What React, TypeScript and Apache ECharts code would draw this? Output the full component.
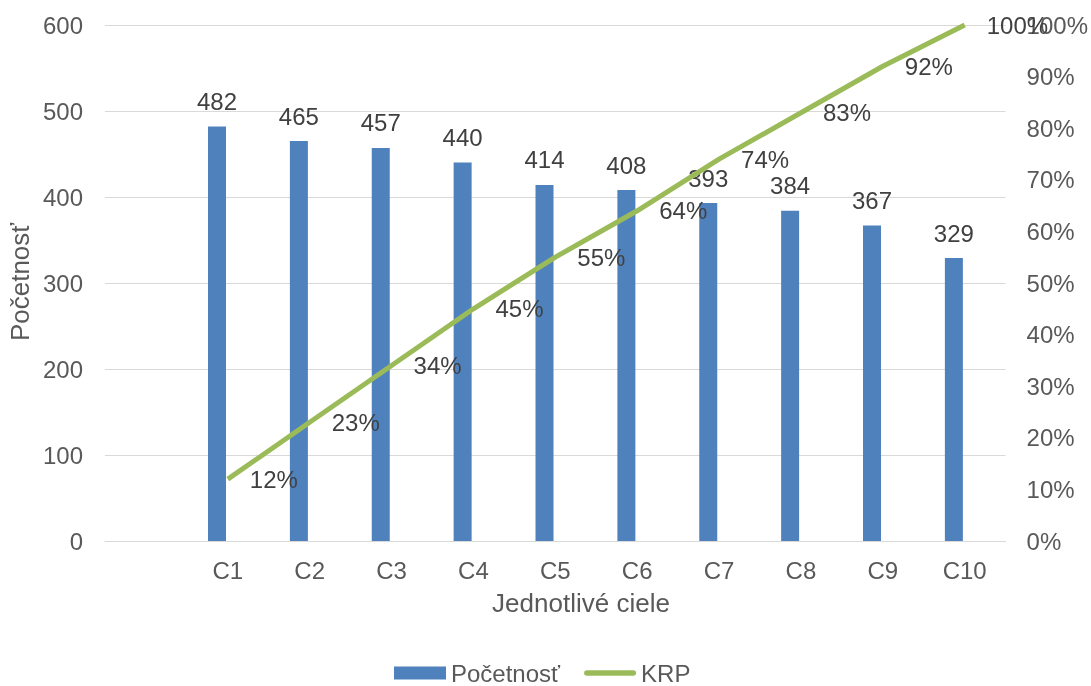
import React, { useEffect, useRef } from "react";
import * as echarts from "echarts";

// Goals and how often each one occurs
const categories = ["C1", "C2", "C3", "C4", "C5", "C6", "C7", "C8", "C9", "C10"];
const frequency = [482, 465, 457, 440, 414, 408, 393, 384, 367, 329];
// Cumulative relative frequency (KRP), in percent
const cumulative = [12, 23, 34, 45, 55, 64, 74, 83, 92, 100];

const leftTicks = { min: 0, max: 600, interval: 100 };
const rightTicks = { min: 0, max: 100, interval: 10 };

const FONT = "'Liberation Sans', Arial, sans-serif";
const FS = 24;
const BAR = "#4F81BD";
const LINE = "#9BBB59";
const GRID = "#D9D9D9";
const AXIS_TEXT = "#595959";
const LABEL_TEXT = "#404040";

export default function App() {
  const ref = useRef<HTMLDivElement>(null);

  useEffect(() => {
    if (!ref.current) return;
    const chart = echarts.init(ref.current, null, { renderer: "svg" });

    // a leading empty category slot, as in the worksheet layout
    const axisCats = ["", ...categories];
    const barData = [null, ...frequency];
    const lineData = [null, ...cumulative];

    chart.setOption({
      animation: false,
      textStyle: { fontFamily: FONT },
      grid: { left: 105, right: 84, top: 25, bottom: 145 },
      legend: {
        data: [
          { name: "Početnosť", icon: "rect" },
          { name: "KRP", icon: "path://M3,0 L53,0 A3,3 0 0 1 53,6 L3,6 A3,3 0 0 1 3,0 Z" },
        ],
        left: 394,
        top: 661,
        padding: 0,
        itemWidth: 52,
        itemHeight: 13,
        itemGap: 24,
        textStyle: { fontSize: FS, lineHeight: 24, color: AXIS_TEXT, fontFamily: FONT },
      },
      xAxis: {
        type: "category",
        data: axisCats,
        axisLine: { lineStyle: { color: GRID, width: 1 } },
        axisTick: { show: false },
        axisLabel: { color: AXIS_TEXT, fontSize: FS, margin: 17, fontFamily: FONT },
      },
      yAxis: [
        {
          type: "value",
          ...leftTicks,
          axisLine: { show: false },
          axisTick: { show: false },
          axisLabel: { color: AXIS_TEXT, fontSize: FS, margin: 22, fontFamily: FONT },
          splitLine: { lineStyle: { color: GRID, width: 1 } },
        },
        {
          type: "value",
          ...rightTicks,
          axisLine: { show: false },
          axisTick: { show: false },
          axisLabel: {
            color: AXIS_TEXT,
            fontSize: FS,
            margin: 21,
            fontFamily: FONT,
            formatter: "{value}%",
          },
          splitLine: { show: false },
        },
      ],
      series: [
        {
          name: "Početnosť",
          type: "bar",
          data: barData,
          barWidth: 18,
          barGap: "20%",
          itemStyle: { color: BAR },
          label: {
            show: true,
            position: "top",
            distance: 13,
            color: LABEL_TEXT,
            fontSize: FS,
            fontFamily: FONT,
          },
        },
        {
          // empty companion column that shares each category slot
          name: "",
          type: "bar",
          data: axisCats.map(() => null),
          barWidth: 18,
          itemStyle: { color: "transparent" },
        },
        {
          name: "KRP",
          type: "line",
          yAxisIndex: 1,
          data: lineData,
          symbol: "circle",
          symbolSize: 0.1,
          showSymbol: true,
          lineStyle: { color: LINE, width: 5 },
          itemStyle: { color: LINE },
          label: {
            show: true,
            position: "right",
            distance: 22,
            color: LABEL_TEXT,
            fontSize: FS,
            fontFamily: FONT,
            formatter: "{c}%",
          },
        },
      ],
      graphic: [
        {
          type: "text",
          x: 581,
          y: 603,
          style: {
            text: "Jednotlivé ciele",
            fontSize: 26,
            fontFamily: FONT,
            fill: AXIS_TEXT,
            align: "center",
            verticalAlign: "middle",
          },
        },
        {
          type: "text",
          x: 20,
          y: 282,
          rotation: Math.PI / 2,
          style: {
            text: "Početnosť",
            fontSize: 26,
            fontFamily: FONT,
            fill: AXIS_TEXT,
            align: "center",
            verticalAlign: "middle",
          },
        },
      ],
    });

    return () => chart.dispose();
  }, []);

  return (
    <div
      ref={ref}
      style={{ position: "fixed", left: 0, top: 0, width: 1091, height: 686 }}
    />
  );
}
